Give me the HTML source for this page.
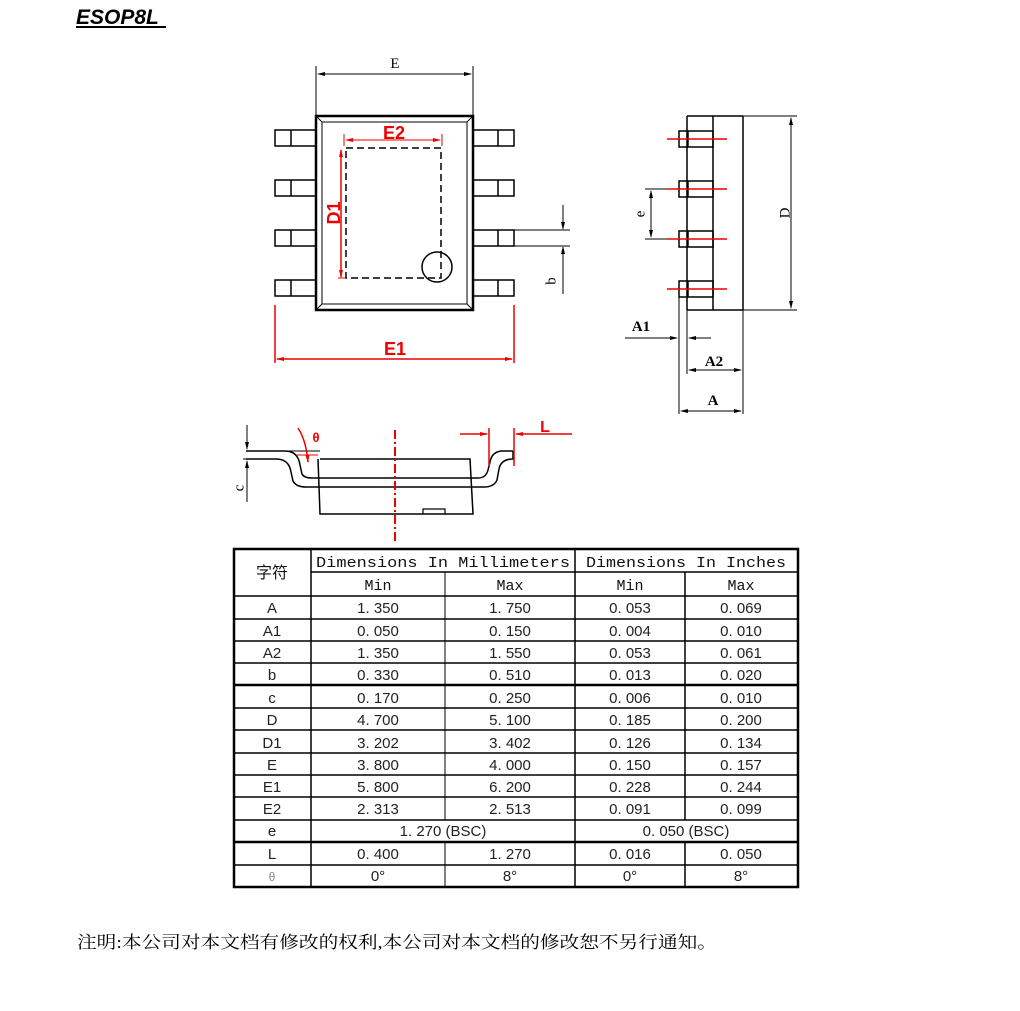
<!DOCTYPE html>
<html><head><meta charset="utf-8"><style>
html,body{margin:0;padding:0;background:#fff;}
svg{display:block;}
</style></head><body>
<svg width="1020" height="1011" viewBox="0 0 1020 1011" xmlns="http://www.w3.org/2000/svg">
<defs>
<marker id="ak" markerWidth="8" markerHeight="6" refX="7" refY="3" orient="auto-start-reverse" markerUnits="userSpaceOnUse"><path d="M0,1 L8,3 L0,5z" fill="#000"/></marker>
<marker id="ar" markerWidth="8" markerHeight="6" refX="7" refY="3" orient="auto-start-reverse" markerUnits="userSpaceOnUse"><path d="M0,1 L8,3 L0,5z" fill="#e00"/></marker>
</defs>
<text x="76" y="24" font-family="Liberation Sans, sans-serif" font-size="21" font-weight="bold" font-style="italic">ESOP8L</text>
<line x1="76" y1="27" x2="166" y2="27" stroke="#000" stroke-width="2"/>

<g fill="none" stroke="#000" stroke-width="1.5">
<rect x="316" y="116" width="157" height="194" stroke-width="2.5"/>
<rect x="322" y="122" width="145" height="182" stroke-width="1"/>
<line x1="316" y1="116" x2="322" y2="122" stroke-width="1"/><line x1="473" y1="116" x2="467" y2="122" stroke-width="1"/>
<line x1="316" y1="310" x2="322" y2="304" stroke-width="1"/><line x1="473" y1="310" x2="467" y2="304" stroke-width="1"/>
<rect x="275" y="130" width="41" height="16"/><line x1="291" y1="130" x2="291" y2="146"/>
<rect x="275" y="180" width="41" height="16"/><line x1="291" y1="180" x2="291" y2="196"/>
<rect x="275" y="230" width="41" height="16"/><line x1="291" y1="230" x2="291" y2="246"/>
<rect x="275" y="280" width="41" height="16"/><line x1="291" y1="280" x2="291" y2="296"/>
<rect x="473" y="130" width="41" height="16"/><line x1="498" y1="130" x2="498" y2="146"/>
<rect x="473" y="180" width="41" height="16"/><line x1="498" y1="180" x2="498" y2="196"/>
<rect x="473" y="230" width="41" height="16"/><line x1="498" y1="230" x2="498" y2="246"/>
<rect x="473" y="280" width="41" height="16"/><line x1="498" y1="280" x2="498" y2="296"/>
<line x1="316" y1="66" x2="316" y2="116" stroke-width="1"/><line x1="473" y1="66" x2="473" y2="116" stroke-width="1"/>
<line x1="318" y1="74" x2="471" y2="74" stroke-width="1" marker-start="url(#ak)" marker-end="url(#ak)"/>
<rect x="346" y="148" width="95" height="130" stroke-dasharray="7,4"/>
<circle cx="437" cy="267" r="15"/>
<line x1="514" y1="230" x2="570" y2="230" stroke-width="1"/><line x1="514" y1="246" x2="570" y2="246" stroke-width="1"/>
<line x1="563" y1="205" x2="563" y2="229" stroke-width="1" marker-end="url(#ak)"/>
<line x1="563" y1="294" x2="563" y2="247" stroke-width="1" marker-end="url(#ak)"/>

<path d="M687,116 L743,116 M687,116 L687,310 M713,116 L713,310 M743,116 L743,310 M687,310 L743,310"/>
<rect x="679" y="131" width="34" height="16"/><line x1="688" y1="131" x2="688" y2="147"/>
<rect x="679" y="181" width="34" height="16"/><line x1="688" y1="181" x2="688" y2="197"/>
<rect x="679" y="231" width="34" height="16"/><line x1="688" y1="231" x2="688" y2="247"/>
<rect x="679" y="281" width="34" height="16"/><line x1="688" y1="281" x2="688" y2="297"/>
<g stroke-width="1">
<line x1="743" y1="116" x2="797" y2="116"/><line x1="743" y1="310" x2="797" y2="310"/>
<line x1="791" y1="118" x2="791" y2="308" marker-start="url(#ak)" marker-end="url(#ak)"/>
<line x1="645" y1="189" x2="667" y2="189"/><line x1="645" y1="239" x2="667" y2="239"/>
<line x1="651" y1="191" x2="651" y2="237" marker-start="url(#ak)" marker-end="url(#ak)"/>
<line x1="679" y1="297" x2="679" y2="414"/><line x1="687" y1="310" x2="687" y2="374"/><line x1="743" y1="310" x2="743" y2="414"/>
<line x1="625" y1="338" x2="677" y2="338" marker-end="url(#ak)"/><line x1="711" y1="338" x2="689" y2="338" marker-end="url(#ak)"/>
<line x1="689" y1="370" x2="741" y2="370" marker-start="url(#ak)" marker-end="url(#ak)"/>
<line x1="681" y1="411" x2="741" y2="411" marker-start="url(#ak)" marker-end="url(#ak)"/>
</g>

<path d="M320,459 L470,459 L473,514 L320,514 L318,459"/>
<path d="M246,451 L285,451 Q298,451 300,465 L302,474 Q304,478 312,478 L478,478 Q486,478 488,470 L490,462 Q492,451 503,451 L513,451"/>
<path d="M246,459 L276,459 Q289,459 291,472 L293,481 Q296,487 306,487 L484,487 Q494,487 497,480 L499,469 Q501,459 513,459 L513,451"/>
<path d="M423,514 L423,509 L445,509 L445,514" stroke-width="1.2"/>
<line x1="246" y1="451" x2="320" y2="451" stroke-width="1"/>
<g stroke-width="1">
<line x1="247" y1="425" x2="247" y2="449" marker-end="url(#ak)"/>
<line x1="247" y1="502" x2="247" y2="461" marker-end="url(#ak)"/>
<line x1="243" y1="459" x2="260" y2="459"/>
</g>
</g>

<g stroke="#e00" fill="none" stroke-width="1.5">
<line x1="344" y1="134" x2="344" y2="146" stroke-width="1"/><line x1="442" y1="134" x2="442" y2="146" stroke-width="1"/>
<line x1="346" y1="140" x2="440" y2="140" stroke-width="1" marker-start="url(#ar)" marker-end="url(#ar)"/>
<line x1="341" y1="150" x2="341" y2="277" marker-start="url(#ar)" marker-end="url(#ar)"/>
<line x1="338" y1="278" x2="346" y2="278" stroke-width="1"/>
<line x1="275" y1="305" x2="275" y2="363"/><line x1="514" y1="305" x2="514" y2="363"/>
<line x1="277" y1="359" x2="512" y2="359" marker-start="url(#ar)" marker-end="url(#ar)"/>
<line x1="667" y1="139" x2="727" y2="139"/><line x1="667" y1="189" x2="727" y2="189"/>
<line x1="667" y1="239" x2="727" y2="239"/><line x1="667" y1="289" x2="727" y2="289"/>
<line x1="395" y1="430" x2="395" y2="542" stroke-dasharray="9,3,2,3" stroke-width="2"/>
<line x1="489" y1="428" x2="489" y2="466"/><line x1="514" y1="428" x2="514" y2="466"/>
<line x1="460" y1="434" x2="487" y2="434" marker-end="url(#ar)"/>
<line x1="572" y1="434" x2="516" y2="434" marker-end="url(#ar)"/>
<path d="M298,428 Q306,440 308,462" marker-end="url(#ar)"/>
<line x1="296" y1="455" x2="318" y2="455" stroke-width="1"/>
</g>

<g font-family="Liberation Serif, serif" font-size="15" text-anchor="middle">
<text x="395" y="68">E</text>
<text x="714" y="366" font-weight="bold">A2</text>
<text x="713" y="405" font-weight="bold">A</text>
<text x="641" y="331" font-weight="bold">A1</text>
<text transform="translate(786,213) rotate(-90)" dominant-baseline="middle">D</text>
<text transform="translate(641,214) rotate(-90)" dominant-baseline="middle">e</text>
<text transform="translate(552,281) rotate(-90)" dominant-baseline="middle">b</text>
<text transform="translate(240,488) rotate(-90)" dominant-baseline="middle">c</text>
</g>
<g font-family="Liberation Sans, sans-serif" font-size="18" font-weight="bold" fill="#e00" text-anchor="middle">
<text x="394" y="139">E2</text>
<text x="395" y="355">E1</text>
<text transform="translate(335,213) rotate(-90)" dominant-baseline="middle">D1</text>
<text x="545" y="432" font-size="16">L</text>
<text x="316" y="442" font-size="13">θ</text>
</g>

<g stroke="#000" fill="none">
<rect x="234" y="549" width="564" height="338" stroke-width="2.5"/>
<line x1="311" y1="549" x2="311" y2="887" stroke-width="1.5"/>
<line x1="575" y1="549" x2="575" y2="887" stroke-width="1.5"/>
<line x1="445" y1="572" x2="445" y2="820" stroke-width="1"/><line x1="445" y1="842" x2="445" y2="887" stroke-width="1"/>
<line x1="685" y1="572" x2="685" y2="820" stroke-width="1.5"/><line x1="685" y1="842" x2="685" y2="887" stroke-width="1.5"/>
<line x1="311" y1="572" x2="798" y2="572" stroke-width="1.5"/>
<line x1="234" y1="596" x2="798" y2="596" stroke-width="1.5"/>
<line x1="234" y1="619" x2="798" y2="619" stroke-width="1.5"/>
<line x1="234" y1="641" x2="798" y2="641" stroke-width="1.5"/>
<line x1="234" y1="663" x2="798" y2="663" stroke-width="1.5"/>
<line x1="234" y1="685" x2="798" y2="685" stroke-width="2.5"/>
<line x1="234" y1="708" x2="798" y2="708" stroke-width="1.5"/>
<line x1="234" y1="730" x2="798" y2="730" stroke-width="1.5"/>
<line x1="234" y1="753" x2="798" y2="753" stroke-width="1.5"/>
<line x1="234" y1="775" x2="798" y2="775" stroke-width="1.5"/>
<line x1="234" y1="797" x2="798" y2="797" stroke-width="1.5"/>
<line x1="234" y1="820" x2="798" y2="820" stroke-width="1.5"/>
<line x1="234" y1="842" x2="798" y2="842" stroke-width="2.5"/>
<line x1="234" y1="865" x2="798" y2="865" stroke-width="1.5"/>
</g>
<g font-family="Liberation Mono, monospace" font-size="15" text-anchor="middle" fill="#111">
<text x="272" y="578" font-family="Liberation Sans, Noto Sans CJK SC, sans-serif" font-size="16">字符</text>
<text x="443" y="567" textLength="254" lengthAdjust="spacingAndGlyphs">Dimensions In Millimeters</text>
<text x="686" y="567" textLength="200" lengthAdjust="spacingAndGlyphs">Dimensions In Inches</text>
<text x="378" y="590">Min</text><text x="510" y="590">Max</text><text x="630" y="590">Min</text><text x="741" y="590">Max</text>
</g>
<g font-family="Liberation Sans, sans-serif" font-size="15" text-anchor="middle" fill="#222">
<text x="272" y="613">A</text><text x="378" y="613">1. 350</text><text x="510" y="613">1. 750</text><text x="630" y="613">0. 053</text><text x="741" y="613">0. 069</text>
<text x="272" y="636">A1</text><text x="378" y="636">0. 050</text><text x="510" y="636">0. 150</text><text x="630" y="636">0. 004</text><text x="741" y="636">0. 010</text>
<text x="272" y="658">A2</text><text x="378" y="658">1. 350</text><text x="510" y="658">1. 550</text><text x="630" y="658">0. 053</text><text x="741" y="658">0. 061</text>
<text x="272" y="680">b</text><text x="378" y="680">0. 330</text><text x="510" y="680">0. 510</text><text x="630" y="680">0. 013</text><text x="741" y="680">0. 020</text>
<text x="272" y="703">c</text><text x="378" y="703">0. 170</text><text x="510" y="703">0. 250</text><text x="630" y="703">0. 006</text><text x="741" y="703">0. 010</text>
<text x="272" y="725">D</text><text x="378" y="725">4. 700</text><text x="510" y="725">5. 100</text><text x="630" y="725">0. 185</text><text x="741" y="725">0. 200</text>
<text x="272" y="748">D1</text><text x="378" y="748">3. 202</text><text x="510" y="748">3. 402</text><text x="630" y="748">0. 126</text><text x="741" y="748">0. 134</text>
<text x="272" y="770">E</text><text x="378" y="770">3. 800</text><text x="510" y="770">4. 000</text><text x="630" y="770">0. 150</text><text x="741" y="770">0. 157</text>
<text x="272" y="792">E1</text><text x="378" y="792">5. 800</text><text x="510" y="792">6. 200</text><text x="630" y="792">0. 228</text><text x="741" y="792">0. 244</text>
<text x="272" y="814">E2</text><text x="378" y="814">2. 313</text><text x="510" y="814">2. 513</text><text x="630" y="814">0. 091</text><text x="741" y="814">0. 099</text>
<text x="272" y="836">e</text><text x="443" y="836">1. 270 (BSC)</text><text x="686" y="836">0. 050 (BSC)</text>
<text x="272" y="859">L</text><text x="378" y="859">0. 400</text><text x="510" y="859">1. 270</text><text x="630" y="859">0. 016</text><text x="741" y="859">0. 050</text>
<text x="272" y="881" fill="#888" font-size="12">θ</text><text x="378" y="881">0°</text><text x="510" y="881">8°</text><text x="630" y="881">0°</text><text x="741" y="881">8°</text>
</g>

<text x="77" y="948" font-family="Liberation Serif, Noto Serif CJK SC, serif" font-size="17" textLength="640" lengthAdjust="spacingAndGlyphs">注明:本公司对本文档有修改的权利,本公司对本文档的修改恕不另行通知。</text>
</svg>
</body></html>
